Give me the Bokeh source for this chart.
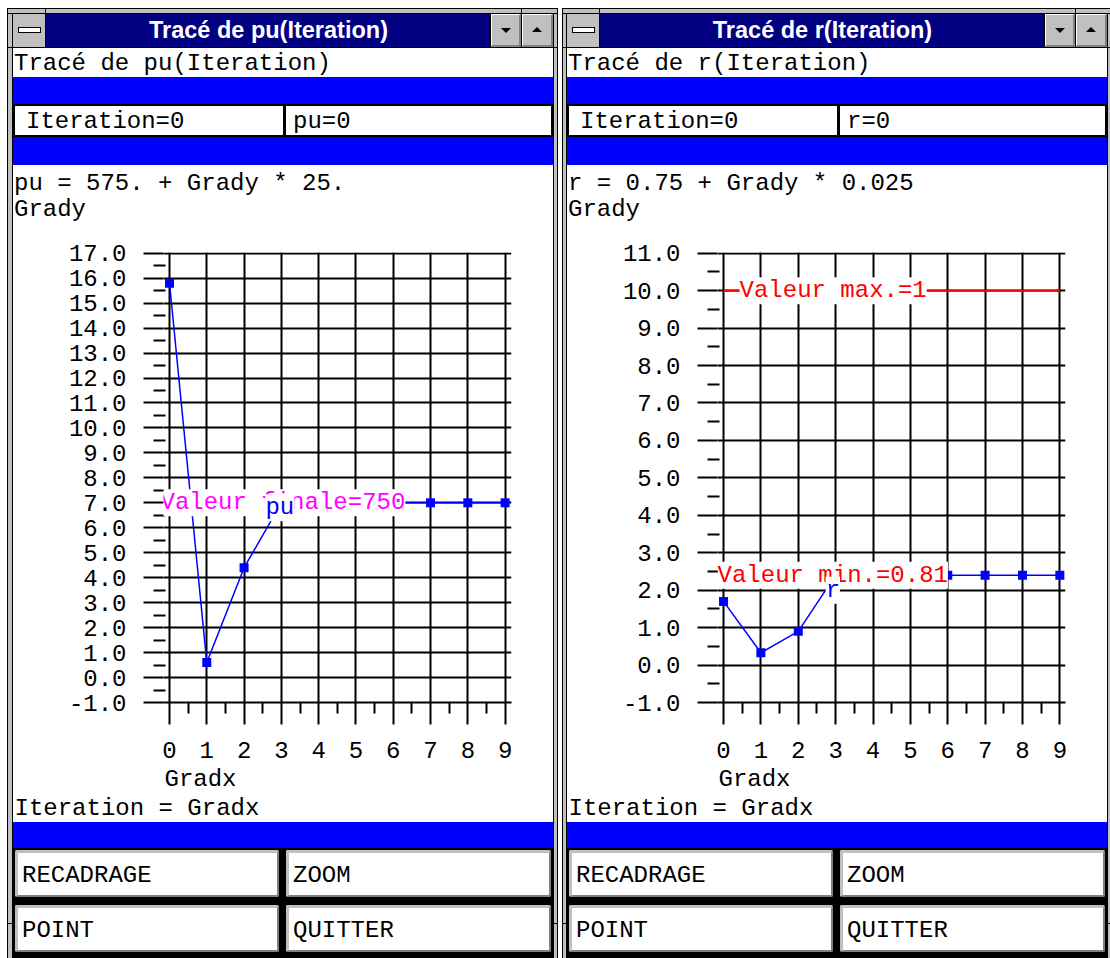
from bokeh.plotting import figure
from bokeh.models import Range1d, FixedTicker, PrintfTickFormatter, Label, Div, Title
from bokeh.layouts import row, column
from bokeh.embed import file_html
from bokeh.resources import INLINE

# ---------------- data ----------------
iterations = [0, 1, 2, 3, 4, 5, 6, 7, 8, 9]
pu_grady = [15.8, 0.6, 4.4, 7.0, 7.0, 7.0, 7.0, 7.0, 7.0, 7.0]
r_grady = [1.7, 0.33, 0.9, 2.4, 2.4, 2.4, 2.4, 2.4, 2.4, 2.4]
x_ticks = [0, 1, 2, 3, 4, 5, 6, 7, 8, 9]
pu_y_ticks = list(range(-1, 18))
r_y_ticks = list(range(-1, 12))
pu_final_grady = 7.0   # Valeur finale=750
r_max_grady = 10.0     # Valeur max.=1
r_min_grady = 2.4      # Valeur min.=0.81

MONO = "Liberation Mono"
NAVY = "#000080"
BLUE = "#0000ff"
GREY = "#c0c0c0"
DGREY = "#808080"
MAGENTA = "#ff00ff"
RED = "#ff0000"

COL_W = 540
TOP_H = 240
CHART_H = 582
BOT_H = 136
TOTAL_H = TOP_H + CHART_H + BOT_H   # 958


# ---------------- chrome helpers (HTML) ----------------
def box(x, y, w, h, style=""):
    return (f'<div style="position:absolute;left:{x}px;top:{y}px;width:{w}px;'
            f'height:{h}px;box-sizing:border-box;{style}"></div>')


def txt(x, y, h, s, style=""):
    return (f'<div style="position:absolute;left:{x}px;top:{y}px;height:{h}px;'
            f'line-height:{h}px;white-space:pre;font-family:Liberation Mono;'
            f'font-size:24px;color:#000;{style}">{s}</div>')


def wrap(w, h, parts, bg="#fff"):
    return (f'<div style="position:relative;width:{w}px;height:{h}px;overflow:hidden;'
            f'background:{bg};margin:0;padding:0">' + "".join(parts) + '</div>')


def mk_div(html, w, h):
    return Div(text=html, width=w, height=h, margin=0, styles={"overflow": "hidden"})


def top_chrome(W, title, row1, f1, f2, formula):
    P = []
    P.append(box(0, 8, W, 6, f"background:{GREY};border-top:1px solid #000;border-bottom:1px solid #000"))
    P.append(box(32, 8, 1, 6, "background:#000"))
    P.append(box(508, 8, 1, 6, "background:#000"))
    # title bar
    P.append(box(0, 14, 33, 33, f"background:{GREY};border-right:1px solid #000"))
    P.append(box(5, 27, 23, 6, "background:#fff;border:1px solid #000"))
    P.append(box(33, 14, 445, 33, f"background:{NAVY}"))
    P.append(f'<div style="position:absolute;left:33px;top:14px;width:445px;height:33px;'
             f'line-height:33px;text-align:center;color:#fff;font-family:Liberation Sans;'
             f'font-weight:bold;font-size:23.5px;white-space:pre">{title}</div>')
    btn = (f"background:{GREY};border-top:1px solid #fff;border-left:1px solid #fff;"
           f"border-bottom:2px solid {DGREY};border-right:2px solid {DGREY}")
    P.append(box(477, 14, 1, 33, "background:#000"))
    P.append(box(478, 14, 30, 33, btn))
    P.append(box(508, 14, 1, 33, "background:#000"))
    P.append(box(509, 14, 31, 33, btn))
    P.append('<div style="position:absolute;left:488px;top:28px;width:0;height:0;'
             'border-left:5px solid transparent;border-right:5px solid transparent;'
             'border-top:5px solid #000"></div>')
    P.append('<div style="position:absolute;left:519px;top:27px;width:0;height:0;'
             'border-left:5px solid transparent;border-right:5px solid transparent;'
             'border-bottom:5px solid #000"></div>')
    P.append(box(0, 47, W, 1, "background:#000"))
    # rows
    P.append(txt(1, 49, 29, row1))
    P.append(box(0, 77, W, 27, f"background:{BLUE}"))
    P.append(box(0, 104, 272, 33, "background:#fff;border:2px solid #000"))
    P.append(box(271, 104, 269, 33, "background:#fff;border:2px solid #000"))
    P.append(txt(13, 107, 29, f1))
    P.append(txt(280, 107, 29, f2))
    P.append(box(0, 137, W, 28, f"background:{BLUE}"))
    P.append(txt(1, 170, 28, formula))
    P.append(txt(1, 196, 28, "Grady"))
    return wrap(W, TOP_H, P)


def bottom_chrome(W):
    P = []
    P.append(box(0, 0, W, 26, f"background:{BLUE}"))
    P.append(box(0, 26, W, BOT_H - 26, "background:#000"))
    face = (f"background:#fff;border-top:3px solid {GREY};border-left:3px solid {GREY};"
            f"border-bottom:2px solid {DGREY};border-right:2px solid {DGREY};border-radius:2px")
    for (y, ty, a, b) in [(28, 39, "RECADRAGE", "ZOOM"), (83, 94, "POINT", "QUITTER")]:
        P.append(box(2, y, 264, 47, face))
        P.append(box(273, y, 265, 47, face))
        P.append(txt(9, ty, 30, a))
        P.append(txt(280, ty, 30, b))
    return wrap(W, BOT_H, P)


def left_strip():
    P = [box(7, 8, 1, TOTAL_H, "background:#000"),
         box(8, 9, 4, TOTAL_H, f"background:{GREY}"),
         box(8, 9, 5, 4, f"background:{GREY}"),
         box(12, 13, 1, TOTAL_H, "background:#000"),
         box(7, 8, 6, 1, "background:#000"),
         box(7, 13, 6, 1, "background:#000"),
         box(8, 47, 4, 1, "background:#000"),
         box(8, 923, 4, 1, "background:#000")]
    return wrap(13, TOTAL_H, P)


def divider():
    P = [box(1, 9, 3, TOTAL_H, f"background:{GREY}"),
         box(0, 9, 4, 4, f"background:{GREY}"),
         box(0, 13, 1, TOTAL_H, "background:#000"),
         box(0, 13, 4, 1, "background:#000"),
         box(4, 8, 1, TOTAL_H, "background:#000"),
         box(0, 8, 5, 1, "background:#000"),
         box(10, 9, 3, TOTAL_H, f"background:{GREY}"),
         box(10, 9, 4, 4, f"background:{GREY}"),
         box(9, 8, 1, TOTAL_H, "background:#000"),
         box(9, 8, 5, 1, "background:#000"),
         box(13, 13, 1, TOTAL_H, "background:#000"),
         box(10, 13, 4, 1, "background:#000")]
    for yy in (47, 923):
        P.append(box(1, yy, 3, 1, "background:#000"))
        P.append(box(10, yy, 3, 1, "background:#000"))
    return wrap(14, TOTAL_H, P)


def right_strip():
    P = [box(0, 13, 1, TOTAL_H, "background:#000"),
         box(1, 9, 2, TOTAL_H, f"background:{GREY}"),
         box(0, 9, 3, 4, f"background:{GREY}"),
         box(0, 8, 3, 1, "background:#000"),
         box(0, 13, 3, 1, "background:#000"),
         box(1, 47, 2, 1, "background:#000"),
         box(1, 923, 2, 1, "background:#000")]
    return wrap(3, TOTAL_H, P)


# ---------------- charts ----------------
def style_axis(ax, line_color, major_out, minor_in, minor_out, standoff):
    ax.axis_line_color = line_color
    ax.axis_line_width = 2
    ax.major_tick_in = 0
    ax.major_tick_out = major_out
    ax.minor_tick_in = minor_in
    ax.minor_tick_out = minor_out
    ax.major_tick_line_color = "black"
    ax.major_tick_line_width = 2
    ax.minor_tick_line_color = "black"
    ax.minor_tick_line_width = 2
    ax.major_label_standoff = standoff
    ax.major_label_text_font = MONO
    ax.major_label_text_font_size = "24px"
    ax.major_label_text_color = "black"


def bottom_title(text, offset, standoff):
    return Title(text=text, align="left", offset=offset, vertical_align="middle",
                 standoff=standoff, text_font=MONO, text_font_size="24px",
                 text_font_style="normal", text_color="black")


def make_chart(x_rng, y_rng, y_ticks):
    p = figure(width=COL_W, height=CHART_H,
               x_range=Range1d(*x_rng), y_range=Range1d(*y_rng),
               output_backend="svg", toolbar_location=None, title=None,
               min_border_left=150, min_border_right=42,
               min_border_top=12, min_border_bottom=CHART_H - 12 - 450,
               background_fill_color="white", border_fill_color="white",
               outline_line_color=None)
    xa = p.xaxis[0]
    xa.ticker = FixedTicker(ticks=x_ticks, minor_ticks=[t + 0.5 for t in x_ticks[:-1]])
    style_axis(xa, "black", 22, 0, 11, 17)
    ya = p.yaxis[0]
    ya.ticker = FixedTicker(ticks=y_ticks, minor_ticks=[t + 0.5 for t in y_ticks[:-1]])
    ya.formatter = PrintfTickFormatter(format="%.1f")
    style_axis(ya, None, 20, 2, 10, 17)
    p.xgrid.grid_line_color = "black"
    p.xgrid.grid_line_width = 2
    p.ygrid.grid_line_color = "black"
    p.ygrid.grid_line_width = 2
    p.add_layout(bottom_title("Gradx", 1, 8), "below")
    p.add_layout(bottom_title("Iteration = Gradx", -149, -8), "below")
    return p


def lab(x, y, text, color, xo=0, yo=0):
    return Label(x=x, y=y, x_offset=xo, y_offset=yo, text=text, text_font=MONO,
                 text_font_size="24px", text_color=color, text_align="left",
                 text_baseline="middle", background_fill_color="white")


# left chart : pu
pL = make_chart((-0.161, 9.171), (pu_y_ticks[0], 17.028), pu_y_ticks)
pL.line(iterations, pu_grady, line_color=BLUE, line_width=1.5)
pL.scatter(iterations, pu_grady, marker="square", size=9, fill_color=BLUE, line_color=None)
pL.add_layout(lab(x_ticks[0], pu_final_grady, "Valeur finale=750", MAGENTA, xo=-9))
pL.add_layout(lab(iterations[3], pu_grady[3], "pu", BLUE, xo=-16, yo=-5))

# right chart : r
pR = make_chart((-0.161, 9.151), (r_y_ticks[0], 11.019), r_y_ticks)
pR.segment(x0=[x_ticks[0]], y0=[r_max_grady], x1=[x_ticks[-1]], y1=[r_max_grady],
           line_color=RED, line_width=2)
pR.line(iterations, r_grady, line_color=BLUE, line_width=1.5)
pR.scatter(iterations, r_grady, marker="square", size=9, fill_color=BLUE, line_color=None)
pR.add_layout(lab(x_ticks[0], r_max_grady, "Valeur max.=1", RED, xo=16))
pR.add_layout(lab(x_ticks[0], r_min_grady, "Valeur min.=0.81", RED, xo=-6))
pR.add_layout(lab(iterations[3], r_grady[3], "r", BLUE, xo=-10, yo=-15))

# ---------------- layout ----------------
colL = column(
    mk_div(top_chrome(COL_W, "Tracé de pu(Iteration)", "Tracé de pu(Iteration)",
                      "Iteration=0", "pu=0", "pu = 575. + Grady * 25."), COL_W, TOP_H),
    pL,
    mk_div(bottom_chrome(COL_W), COL_W, BOT_H),
    spacing=0)
colR = column(
    mk_div(top_chrome(COL_W, "Tracé de r(Iteration)", "Tracé de r(Iteration)",
                      "Iteration=0", "r=0", "r = 0.75 + Grady * 0.025"), COL_W, TOP_H),
    pR,
    mk_div(bottom_chrome(COL_W), COL_W, BOT_H),
    spacing=0)

layout = row(mk_div(left_strip(), 13, TOTAL_H), colL, mk_div(divider(), 14, TOTAL_H), colR,
             mk_div(right_strip(), 3, TOTAL_H), spacing=0)

with open("out.html", "w", encoding="utf-8") as f:
    f.write(file_html(layout, INLINE, title="Tracé"))
